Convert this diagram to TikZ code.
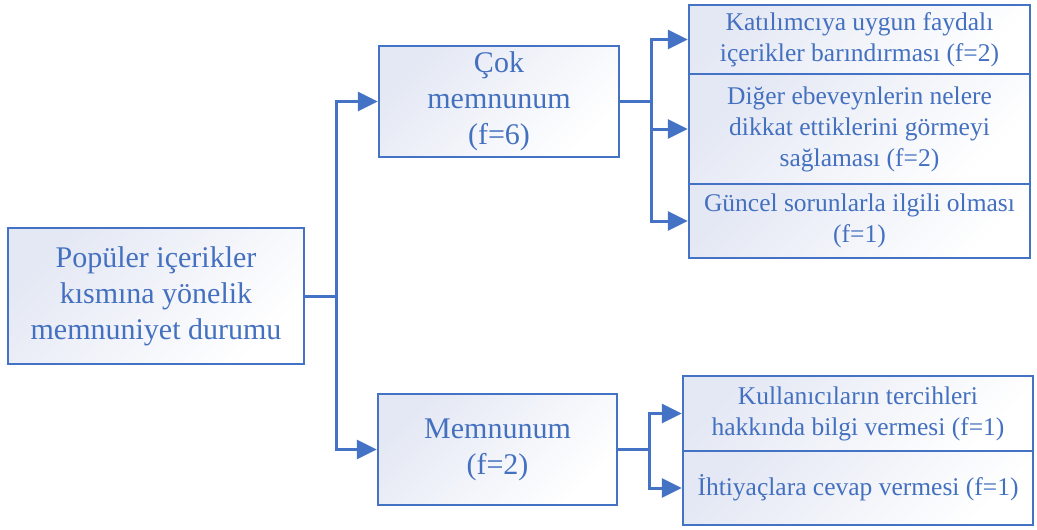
\documentclass[tikz,border=0pt]{standalone}
\usepackage{fontspec}
\setmainfont{Liberation Serif}
\usetikzlibrary{arrows.meta}
\definecolor{ofblue}{HTML}{4472C4}
\definecolor{txtblue}{HTML}{4470C0}
\definecolor{shadegray}{HTML}{E4E8F4}
\tikzset{
  box/.style={draw=ofblue, line width=2.4pt, rectangle, inner sep=0pt, align=center,
    text=txtblue, top color=shadegray, bottom color=white, shading angle=45},
  bigtext/.style={font=\fontsize{30}{36}\selectfont},
  smalltext/.style={font=\fontsize{25.5}{31}\selectfont},
  conn/.style={draw=ofblue, line width=3pt, -{Triangle[length=20pt,width=19pt]}}
}
\begin{document}
\begin{tikzpicture}[x=1pt,y=-1pt]
\useasboundingbox (0,0) rectangle (1037,530);
% left box
\node[box,bigtext,minimum width=296pt,minimum height=136pt] (left) at (156,296)
  {Popüler içerikler\\kısmına yönelik\\memnuniyet durumu};
% middle boxes
\node[box,bigtext,minimum width=240pt,minimum height=111pt] (ctop) at (499,101.5)
  {Çok\\memnunum\\(f=6)};
\node[box,bigtext,minimum width=239pt,minimum height=111pt] (cbot) at (497.5,449.5)
  {Memnunum\\(f=2)};
% right top stack
\node[box,smalltext,minimum width=341pt,minimum height=69pt] (r1) at (859.5,39.5)
  {Katılımcıya uygun faydalı\\içerikler barındırması (f=2)};
\node[box,smalltext,minimum width=341pt,minimum height=110pt] (r2) at (859.5,129)
  {Diğer ebeveynlerin nelere\\dikkat ettiklerini görmeyi\\sağlaması (f=2)};
\node[box,smalltext,minimum width=341pt,minimum height=74pt] (r3) at (859.5,221)
  {Güncel sorunlarla ilgili olması\\(f=1)};
% right bottom stack
\node[box,smalltext,minimum width=350pt,minimum height=75pt] (r4) at (858,413.5)
  {Kullanıcıların tercihleri\\hakkında bilgi vermesi (f=1)};
\node[box,smalltext,minimum width=350pt,minimum height=74pt] (r5) at (858,488)
  {İhtiyaçlara cevap vermesi (f=1)};
% connectors
\draw[conn] (left.east) -- ++(31,0) |- (ctop.west);
\draw[conn] (left.east) -- ++(31,0) |- (cbot.west);
\draw[conn] (ctop.east) -- ++(31,0) |- (r1.west);
\draw[conn] (ctop.east) -- ++(31,0) |- (r2.west);
\draw[conn] (ctop.east) -- ++(31,0) |- (r3.west);
\draw[conn] (cbot.east) -- ++(31,0) |- (r4.west);
\draw[conn] (cbot.east) -- ++(31,0) |- (r5.west);
\end{tikzpicture}
\end{document}
